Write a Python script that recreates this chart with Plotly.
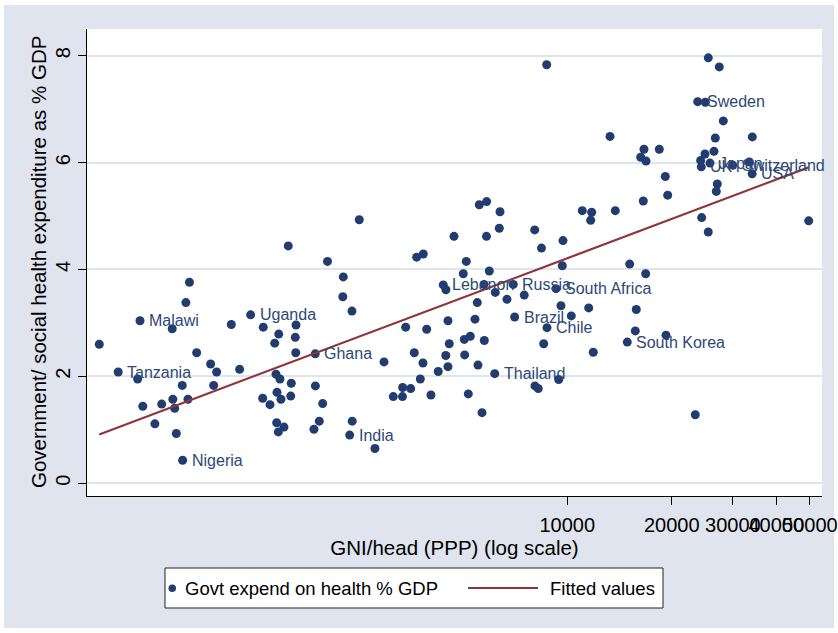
import numpy as np
import plotly.graph_objects as go

# ---- data ----
gni = [448, 508, 587, 578, 727, 796, 815, 855, 938, 976,
       1076, 1137, 1223, 1330, 1474, 1435, 1653, 1645, 1650, 1878,
       2262, 2255, 2396, 2964, 598, 678, 730, 739, 777, 807,
       957, 648, 747, 779, 1447, 1486, 1602, 1457, 1325, 1391,
       1496, 1596, 1880, 1973, 1929, 1862, 1454, 1526, 1470, 2400,
       2360, 2791, 3152, 1570, 2037, 2515, 3681, 3846, 5577, 5856,
       6399, 4716, 5850, 6368, 8055, 8426, 9719, 11046, 11757, 11679,
       8722, 13278, 5116, 5015, 5960, 4391, 4470, 5754, 6987, 6202,
       6702, 7516, 5503, 9674, 9278, 9590, 10269, 11527, 7052, 8740,
       15127, 16823, 15804, 15703, 19249, 14889, 11882, 8551, 3422, 3934,
       4531, 5420, 4570, 5049, 5254, 5766, 3623, 4465, 5062, 3838,
       4530, 4247, 5529, 6178, 3771, 9445, 8070, 8249, 3354, 3537,
       3350, 4047, 5185, 5679, 23381, 25489, 27416, 23756, 24989, 28158,
       26700, 34130, 16634, 18412, 16275, 16858, 26473, 24937, 24231, 25779,
       24331, 29975, 33460, 34100, 19161, 27057, 26877, 19469, 16558, 13751,
       24393, 25480, 49627]

health = [2.60, 2.08, 3.04, 1.95, 2.89, 3.38, 3.76, 2.44, 2.23, 2.08,
          2.97, 2.13, 3.15, 2.92, 2.79, 2.62, 2.96, 2.73, 2.44, 2.42,
          3.86, 3.49, 3.22, 2.27, 1.44, 1.48, 1.57, 1.40, 1.83, 1.57,
          1.83, 1.11, 0.93, 0.43, 2.04, 1.95, 1.87, 1.70, 1.59, 1.47,
          1.57, 1.63, 1.82, 1.49, 1.16, 1.01, 1.13, 1.05, 0.96, 1.16,
          0.90, 0.65, 1.62, 4.44, 4.15, 4.93, 4.23, 4.29, 5.21, 5.27,
          5.08, 4.62, 4.62, 4.77, 4.74, 4.40, 4.54, 5.10, 5.07, 4.92,
          7.83, 6.49, 4.15, 3.92, 3.97, 3.71, 3.62, 3.72, 3.72, 3.57,
          3.44, 3.52, 3.38, 4.07, 3.64, 3.32, 3.13, 3.28, 3.11, 2.91,
          4.10, 3.92, 3.25, 2.85, 2.77, 2.64, 2.45, 2.61, 2.92, 2.88,
          3.04, 3.07, 2.61, 2.69, 2.75, 2.67, 2.44, 2.39, 2.40, 2.25,
          2.18, 2.09, 2.21, 2.05, 1.95, 1.94, 1.82, 1.77, 1.79, 1.77,
          1.62, 1.65, 1.67, 1.32, 1.28, 7.96, 7.79, 7.14, 7.13, 6.78,
          6.46, 6.48, 6.25, 6.25, 6.10, 6.03, 6.21, 6.16, 6.04, 5.99,
          5.92, 5.95, 6.01, 5.79, 5.74, 5.60, 5.46, 5.39, 5.28, 5.10,
          4.97, 4.70, 4.91]

country = ["", "Tanzania", "Malawi", "", "", "", "", "", "", "",
           "", "", "Uganda", "", "", "", "", "", "", "Ghana",
           "", "", "", "", "", "", "", "", "", "",
           "", "", "", "Nigeria", "", "", "", "", "", "",
           "", "", "", "", "", "", "", "", "", "",
           "India", "", "", "", "", "", "", "", "", "",
           "", "", "", "", "", "", "", "", "", "",
           "", "", "", "", "", "Lebanon", "", "", "Russia", "",
           "", "", "", "", "South Africa", "", "", "", "Brazil", "Chile",
           "", "", "", "", "", "South Korea", "", "", "", "",
           "", "", "", "", "", "", "", "", "", "",
           "", "", "", "Thailand", "", "", "", "", "", "",
           "", "", "", "", "", "", "", "Sweden", "", "",
           "", "", "", "", "", "", "", "", "", "Japan",
           "UK", "Switzerland", "", "USA", "", "", "", "", "", "",
           "", "", ""]

x_ticks = [10000, 20000, 30000, 40000, 50000]
y_ticks = [0, 2, 4, 6, 8]
x_title = "GNI/head (PPP) (log scale)"
y_title = "Government/ social health expenditure as % GDP"
series_names = ["Govt expend on health % GDP", "Fitted values"]

# ---- styling ----
NAVY = "#213D6F"
LABEL = "#2C4877"
MAROON = "#90353B"
BG = "#DFE4EE"
FONT = "Liberation Sans, Arial, sans-serif"

W, H = 838, 633
L, R, T, B = 87, 16, 29, 137
plot_w, plot_h = W - L - R, H - T - B


def pxx(px):
    return (px - L) / plot_w


def pxy(py):
    return (H - B - py) / plot_h


# fitted values: linear regression of y on log10(x)
lx = np.log10(np.array(gni, dtype=float))
slope, intercept = np.polyfit(lx, np.array(health), 1)
fit_x = [min(gni), max(gni)]
fit_y = [intercept + slope * np.log10(v) for v in fit_x]

fig = go.Figure()
fig.add_trace(go.Scatter(
    x=gni, y=health, mode="markers", name=series_names[0],
    marker=dict(color=NAVY, size=9, line=dict(width=0)),
    cliponaxis=False, showlegend=False,
))
fig.add_trace(go.Scatter(
    x=fit_x, y=fit_y, mode="lines", name=series_names[1],
    line=dict(color=MAROON, width=2.2), showlegend=False,
))

annotations = []
# marker labels (position 3 = right of the marker)
for g, h, c in zip(gni, health, country):
    if c:
        annotations.append(dict(
            x=np.log10(g), y=h, xref="x", yref="y", text=c, showarrow=False,
            xanchor="left", yanchor="middle", xshift=7,
            font=dict(family=FONT, size=16, color=LABEL)))

# y axis title
annotations.append(dict(
    x=pxx(38), y=pxy(262), xref="paper", yref="paper", text=y_title,
    showarrow=False, textangle=-90, xanchor="center", yanchor="middle",
    font=dict(family=FONT, size=20.5, color="black")))

# legend (drawn as a boxed key like the original)
leg_y = 588
shapes = []
shapes.append(dict(type="rect", xref="paper", yref="paper",
                   x0=pxx(165), x1=pxx(663), y0=pxy(608), y1=pxy(568),
                   fillcolor="white", line=dict(color="#222", width=1)))
shapes.append(dict(type="circle", xref="paper", yref="paper",
                   x0=pxx(168.5), x1=pxx(176), y0=pxy(592), y1=pxy(584.5),
                   fillcolor=NAVY, line=dict(width=0)))
shapes.append(dict(type="line", xref="paper", yref="paper",
                   x0=pxx(468), x1=pxx(538), y0=pxy(leg_y), y1=pxy(leg_y),
                   line=dict(color=MAROON, width=2)))
annotations.append(dict(x=pxx(183), y=pxy(leg_y), xref="paper", yref="paper",
                        text=series_names[0], showarrow=False, xanchor="left",
                        yanchor="middle",
                        font=dict(family=FONT, size=18.5, color="black")))
annotations.append(dict(x=pxx(548), y=pxy(leg_y), xref="paper", yref="paper",
                        text=series_names[1], showarrow=False, xanchor="left",
                        yanchor="middle",
                        font=dict(family=FONT, size=18.5, color="black")))

# white outer frame of the graph region
for (x0, y0, x1, y1) in [(0, 0, W, 5), (0, H - 5, W, H),
                         (0, 0, 4, H), (W - 4, 0, W, H)]:
    shapes.append(dict(type="rect", xref="paper", yref="paper",
                       x0=pxx(x0), x1=pxx(x1), y0=pxy(y1), y1=pxy(y0),
                       fillcolor="white", line=dict(width=0), layer="below"))

fig.update_layout(
    width=W, height=H,
    margin=dict(l=L, r=R, t=T, b=B, pad=0, autoexpand=False),
    paper_bgcolor=BG, plot_bgcolor="white",
    font=dict(family=FONT, color="black", size=20),
    shapes=shapes, annotations=annotations,
    showlegend=False,
    xaxis=dict(
        type="log", range=[np.log10(413), np.log10(54200)],
        tickmode="array", tickvals=x_ticks, ticktext=[str(v) for v in x_ticks],
        tickangle=0, automargin=False, ticklabelstandoff=3,
        ticks="outside", ticklen=8, tickcolor="black", tickwidth=1,
        showgrid=False, zeroline=False,
        showline=True, linecolor="black", linewidth=1,
        tickfont=dict(size=20, color="black"),
        title=dict(text=x_title, font=dict(size=20.5, color="black"), standoff=5),
    ),
    yaxis=dict(
        range=[-0.24, 8.5], automargin=False,
        tickmode="array", tickvals=y_ticks,
        tickangle=-90,
        ticks="outside", ticklen=8, tickcolor="black", tickwidth=1,
        showgrid=True, gridcolor=BG, gridwidth=1.6, zeroline=False,
        showline=True, linecolor="black", linewidth=1,
        tickfont=dict(size=20, color="black"),
    ),
)

fig.write_html("out.html",
               config={"displayModeBar": False},
               post_script="document.body.style.margin='0px';"
                           "document.body.style.overflow='hidden';")
